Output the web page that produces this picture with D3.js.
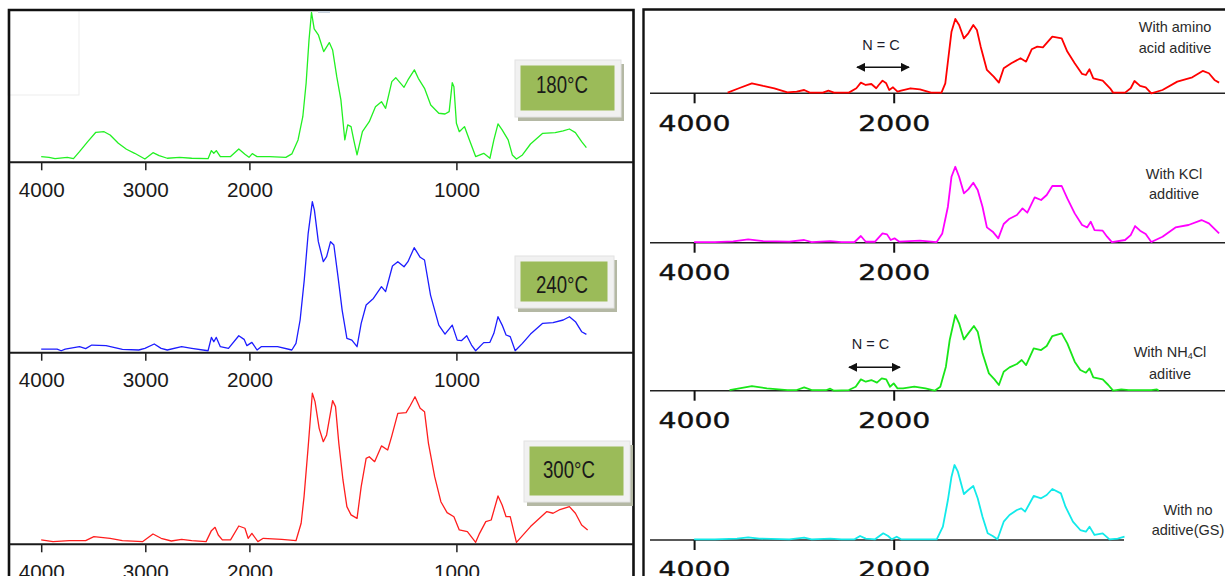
<!DOCTYPE html>
<html lang="en">
<head>
    <meta charset="UTF-8">
    <title>FTIR spectra</title>
    <script src="https://d3js.org/d3.v7.min.js"></script>
    <style>
        body { margin: 0; background: #fff; }
        svg { display: block; font-family: "Liberation Sans", Arial, sans-serif; }
    </style>
</head>
<body>
    <svg id="chart" width="1225" height="576"></svg>

    <script>
        // ---- data (wavenumber cm-1, relative intensity) ----
        const spec180 = [[4000,3.8],[3925,3.3],[3867,2.4],[3749,3.3],[3690,2.4],[3632,7.1],[3553,13.8],[3475,20],[3396,20.4],[3338,18.2],[3259,12.7],[3181,8.7],[3102,6],[3004,2.2],[2926,6.4],[2867,4.4],[2789,2.7],[2671,3.3],[2554,2.7],[2397,2.4],[2365,7.8],[2342,6],[2318,7.8],[2279,3.8],[2181,3.8],[2102,8.9],[2043,5.3],[2004,3.3],[1986,5.8],[1963,3.8],[1903,3.8],[1824,3.3],[1795,5.6],[1765,14.9],[1742,30.4],[1726,52.7],[1712,81.6],[1700,100],[1687,89],[1667,85],[1641,73.8],[1614,79.8],[1598,74.9],[1578,57.1],[1558,41.6],[1539,14.9],[1525,24.9],[1509,23.8],[1496,14.9],[1480,4.9],[1454,20.4],[1421,27.1],[1391,37.1],[1362,40.4],[1342,36],[1312,53.8],[1293,56.4],[1253,50],[1234,54.9],[1203,61.6],[1184,56],[1154,49.3],[1124,38.2],[1085,32.7],[1055,32.2],[1035,33.8],[1020,53.1],[1012,50.4],[1000,26],[986,20.4],[961,23.8],[937,14.9],[907,3.8],[868,6],[838,2.7],[819,14.9],[799,25.6],[779,21.6],[750,14.9],[730,4.9],[710,2.2],[681,4.9],[642,12.2],[583,19.3],[523,19.8],[484,20.9],[454,22.2],[425,19.8],[395,13.8],[372,9.8]];

        const spec240 = [[4000,2.4],[3847,2.4],[3808,1.3],[3769,2.4],[3632,4],[3573,2.7],[3514,5.1],[3377,4.7],[3220,2.2],[3063,1.8],[3004,2.9],[2914,5.8],[2848,2.9],[2789,1.8],[2651,4],[2554,2.9],[2397,1.3],[2365,10.2],[2342,7.3],[2318,10.2],[2279,4],[2201,2.9],[2102,11.3],[2051,8.9],[2024,4.7],[1988,6.9],[1963,1.8],[1943,4],[1864,4],[1795,1.8],[1775,6.2],[1755,21.8],[1735,48.4],[1716,79.6],[1696,100.7],[1686,95.1],[1667,74],[1643,60.7],[1627,64],[1608,74],[1592,71.8],[1572,50.7],[1552,28.4],[1529,9.6],[1505,8.4],[1480,4],[1460,19.6],[1436,31.8],[1401,36.2],[1362,44],[1342,40.7],[1309,57.8],[1283,60.7],[1253,57.3],[1234,60.7],[1204,70],[1175,63.6],[1154,61.8],[1125,38.4],[1085,18.4],[1055,12.4],[1020,18.4],[996,8.4],[976,8],[950,11.3],[927,5.1],[907,1.3],[868,6.7],[838,6.9],[819,12.9],[799,24],[779,18.4],[760,11.8],[740,10.7],[716,1.3],[681,6.2],[642,12.4],[583,19.6],[533,20],[484,21.8],[454,24],[425,20.7],[395,14],[372,12.2]];

        const spec300 = [[4000,2.9],[3886,1.8],[3730,2.4],[3573,2.4],[3494,5.1],[3338,4],[3220,2.4],[3024,1.8],[2926,6.9],[2848,4],[2750,2.2],[2651,3.3],[2554,2.4],[2416,1.8],[2365,9.1],[2330,11.3],[2299,6.2],[2260,2.9],[2181,2.9],[2102,12.2],[2043,10.7],[2012,4],[1988,7.3],[1959,1.8],[1933,4],[1844,3.3],[1775,2.4],[1750,14],[1736,31.8],[1716,65.1],[1696,100.7],[1683,95.1],[1663,77.3],[1643,68.4],[1627,72.9],[1598,95.8],[1584,91.8],[1568,67.3],[1548,42.9],[1529,25.1],[1509,19.6],[1480,17.3],[1460,38.4],[1436,57.3],[1421,58.4],[1395,55.1],[1362,65.6],[1332,62.9],[1313,71.8],[1283,87.3],[1243,87.8],[1224,92.2],[1200,98.4],[1175,90.7],[1154,88.4],[1135,67.3],[1105,45.1],[1075,28.4],[1045,21.1],[1012,18.4],[986,9.6],[947,8.4],[907,1.3],[888,7.3],[858,15.1],[832,16.2],[799,32.2],[779,26.2],[760,18.4],[740,18.4],[710,1.3],[642,11.8],[563,21.8],[533,20.7],[504,22.9],[454,25.1],[425,20.7],[395,12.9],[366,9.6]];

        const specAmino = [[3664,0.9],[3551,6.7],[3421,13.3],[3308,9.8],[3196,6.7],[3065,1.3],[2972,2.2],[2897,4.4],[2841,0.9],[2710,0.9],[2654,3.6],[2598,0.9],[2449,0.9],[2374,6.7],[2329,14.2],[2280,11.1],[2224,12.4],[2175,6.7],[2150,11.1],[2112,16.9],[2075,13.3],[2045,4.4],[2007,8],[1981,2.2],[1963,3.6],[1916,6.7],[1869,5.3],[1813,0.9],[1761,0.9],[1742,13.3],[1728,44.4],[1711,82.2],[1692,99.1],[1673,91.1],[1649,73.3],[1627,80],[1602,91.1],[1584,84.4],[1565,62.2],[1534,31.1],[1500,22.2],[1474,14.2],[1450,33.3],[1412,40],[1366,46.7],[1338,42.2],[1310,58.7],[1282,62.2],[1254,61.3],[1207,75.6],[1160,73.3],[1132,55.6],[1095,40],[1058,25.8],[1039,24.4],[1021,32],[1002,20],[955,16.9],[918,6.7],[903,0.9],[843,0.9],[815,6.7],[796,16.4],[768,9.8],[740,8],[712,0],[656,4.4],[582,15.6],[507,21.3],[455,29.8],[424,26.7],[396,17.8],[373,14.2]];

        const specKCl = [[4000,0.9],[3794,0.9],[3608,1.8],[3458,4.4],[3308,2.2],[3047,1.3],[2897,3.6],[2822,0.9],[2636,2.2],[2523,0.9],[2392,0.9],[2329,8.9],[2280,1.3],[2187,1.3],[2112,12.4],[2067,11.1],[2030,3.6],[1996,5.8],[1972,1.3],[1869,2.7],[1785,0.9],[1757,12.4],[1729,48],[1711,88],[1692,101.3],[1673,88],[1649,65.8],[1627,71.1],[1602,80],[1580,70.2],[1556,48],[1534,20.4],[1505,14.7],[1477,5.8],[1450,24.9],[1421,32],[1384,36.9],[1356,45.8],[1332,40],[1295,60.4],[1263,56.9],[1235,63.6],[1207,75.6],[1160,75.6],[1132,59.1],[1095,39.1],[1058,23.6],[1033,20.4],[1015,28],[996,16.9],[955,16],[933,8],[909,0.9],[843,3.6],[815,10.2],[793,22.2],[768,16],[740,11.6],[712,0.9],[656,8],[591,20.4],[526,23.6],[461,30.2],[424,25.8],[373,12.4]];

        const specNH4Cl = [[3645,0.9],[3421,6.2],[3271,3.1],[3065,0.9],[2972,0.9],[2897,4.4],[2822,0.9],[2673,0.9],[2636,2.7],[2598,0],[2449,0.9],[2381,5.3],[2329,15.1],[2280,12],[2224,14.2],[2168,10.7],[2120,16.4],[2075,15.1],[2037,5.3],[2000,9.8],[1981,3.1],[1953,3.1],[1897,5.3],[1841,3.1],[1795,0],[1767,5.3],[1739,32],[1720,67.6],[1692,100.9],[1673,89.8],[1649,68.4],[1627,76.4],[1599,86.2],[1580,78.7],[1556,49.8],[1524,23.1],[1496,15.1],[1474,7.6],[1450,25.3],[1421,31.1],[1384,35.6],[1360,40.9],[1338,34.2],[1300,56.4],[1263,54.2],[1235,59.6],[1207,72.9],[1160,76.4],[1132,63.1],[1095,38.7],[1067,27.6],[1039,24],[1021,29.8],[1002,17.8],[955,15.1],[927,7.6],[903,0],[862,1.8],[825,0.9],[712,0.9],[684,1.8],[675,0]];

        const specGS = [[4000,0.9],[3794,0.9],[3570,1.8],[3458,3.6],[3346,1.8],[3047,0.9],[2897,3.1],[2822,0.9],[2636,1.8],[2523,0.9],[2392,0.9],[2337,5.3],[2280,1.8],[2187,0.9],[2105,8.9],[2056,5.3],[2019,0.9],[1985,4.4],[1963,0.9],[1785,0.9],[1754,17.8],[1729,53.3],[1711,84.4],[1696,100],[1679,91.1],[1649,61.3],[1627,66.7],[1602,72],[1580,55.6],[1556,31.1],[1530,8.9],[1505,5.3],[1481,0.9],[1450,24.4],[1421,33.3],[1384,40],[1362,42.2],[1343,37.8],[1300,58.7],[1263,55.6],[1235,60],[1207,68],[1164,62.2],[1141,44.4],[1104,24.4],[1067,13.3],[1039,11.1],[1021,17.8],[996,6.7],[955,8.9],[921,0.9],[880,1.8],[846,4.4]];

        const leftTicks = [4000, 3000, 2000, 1000];
        const rightTicks = [4000, 2000];
        const tempLabels = ["180°C", "240°C", "300°C"];
        const additiveLabels = [
            ["With amino", "acid aditive"],
            ["With KCl", "additive"],
            ["With NH4Cl", "aditive"],
            ["With no", "aditive(GS)"]
        ];

        const svg = d3.select("#chart");

        // ---- scales (FTIR: 2x expansion below 2000 cm-1) ----
        const xLeft = d3.scaleLinear().domain([4000, 2000, 400]).range([41.2, 249.4, 580.6]);
        const xRight = d3.scaleLinear().domain([4000, 2000, 400]).range([694.1, 893.7, 1213.7]);

        // ---- left panel ----
        const leftPanels = [
            { data: spec180, base: 162.3, color: "#22f022", box: [515, 60, 106, 57, 562, 84] },
            { data: spec240, base: 352.7, color: "#1d1dff", box: [515, 256, 99, 52, 562, 284] },
            { data: spec300, base: 544.3, color: "#ff1e1e", box: [524, 441, 106, 61, 569, 469] }
        ];

        // frame
        svg.append("rect").attr("x", 8).attr("y", 10).attr("width", 71).attr("height", 85)
            .attr("fill", "none").attr("stroke", "#ededed").attr("stroke-width", 1);
        svg.append("path").attr("d", "M9,590V10H633.5V590")
            .attr("fill", "none").attr("stroke", "#111").attr("stroke-width", 2.6);
        svg.append("rect").attr("x", 318).attr("y", 11).attr("width", 12).attr("height", 2)
            .attr("fill", "#c9d3de");

        leftPanels.forEach((p, i) => {
            const y = d3.scaleLinear().domain([0, 100]).range([p.base, p.base - 150]);

            svg.append("line").attr("x1", 9).attr("x2", 633).attr("y1", p.base).attr("y2", p.base)
                .attr("stroke", "#1a1a1a").attr("stroke-width", 2);

            const ax = svg.append("g").attr("transform", `translate(0,${p.base})`)
                .call(d3.axisBottom(xLeft).tickValues(leftTicks).tickSize(8).tickFormat(d3.format("d")));
            ax.select(".domain").remove();
            ax.selectAll("line").attr("stroke", "#222").attr("stroke-width", 1.5);
            ax.selectAll("text").attr("y", 34.7).attr("dy", null)
                .attr("font-family", "'Liberation Sans', Arial, sans-serif")
                .attr("font-size", 19.5).attr("fill", "#1a1a1a")
                .attr("textLength", 46).attr("lengthAdjust", "spacingAndGlyphs");

            svg.append("path").datum(p.data)
                .attr("fill", "none").attr("stroke", p.color).attr("stroke-width", 1.3)
                .attr("stroke-linejoin", "round")
                .attr("d", d3.line().x(d => xLeft(d[0])).y(d => Math.max(10, y(d[1]))));

            // temperature label box
            const [bx, by, bw, bh, tx, ty] = p.box;
            svg.append("rect").attr("x", bx + 3).attr("y", by + 4).attr("width", bw).attr("height", bh)
                .attr("fill", "#b4b8a4");
            svg.append("rect").attr("x", bx).attr("y", by).attr("width", bw).attr("height", bh)
                .attr("fill", "#f1f1f1").attr("stroke", "#e2e2e2").attr("stroke-width", 1);
            svg.append("rect").attr("x", bx + 5.5).attr("y", by + 5.5).attr("width", bw - 12).attr("height", bh - 12)
                .attr("fill", "#9bbb59");
            svg.append("text").attr("x", tx).attr("y", ty + 8.5).attr("text-anchor", "middle")
                .attr("font-size", 24).attr("fill", "#1a1a1a")
                .attr("textLength", 52).attr("lengthAdjust", "spacingAndGlyphs")
                .text(tempLabels[i]);
        });

        // ---- right panel ----
        const rightPanels = [
            { data: specAmino, base: 93.3, color: "#ff0000", axisEnd: 1225, label: [1175, 32], lineGap: 21 },
            { data: specKCl, base: 242.7, color: "#ff00ff", axisEnd: 1225, label: [1174, 178.5], lineGap: 20 },
            { data: specNH4Cl, base: 390.7, color: "#19e619", axisEnd: 1225, label: [1170, 357], lineGap: 21.5 },
            { data: specGS, base: 540, color: "#12eaea", axisEnd: 1124, label: [1188, 515], lineGap: 20 }
        ];

        svg.append("path").attr("d", "M643.5,590V9.5H1226")
            .attr("fill", "none").attr("stroke", "#111").attr("stroke-width", 2.4);

        rightPanels.forEach((p, i) => {
            const y = d3.scaleLinear().domain([0, 100]).range([p.base, p.base - 75]);

            svg.append("line").attr("x1", 650).attr("x2", p.axisEnd).attr("y1", p.base).attr("y2", p.base)
                .attr("stroke", "#222").attr("stroke-width", 1.5);

            const ax = svg.append("g").attr("transform", `translate(0,${p.base})`)
                .call(d3.axisBottom(xRight).tickValues(rightTicks).tickSize(10).tickFormat(d3.format("d")));
            ax.select(".domain").remove();
            ax.selectAll("line").attr("stroke", "#111").attr("stroke-width", 2);
            ax.selectAll("text").attr("y", 37.4).attr("dy", null)
                .attr("font-family", "'DejaVu Sans', sans-serif")
                .attr("font-size", 21.5).attr("fill", "#111")
                .attr("stroke", "#111").attr("stroke-width", 0.4)
                .attr("textLength", 72).attr("lengthAdjust", "spacingAndGlyphs");

            svg.append("path").datum(p.data)
                .attr("fill", "none").attr("stroke", p.color).attr("stroke-width", 1.8)
                .attr("stroke-linejoin", "round")
                .attr("d", d3.line().x(d => xRight(d[0])).y(d => y(d[1])));

            const [lx, ly] = p.label;
            const lines = additiveLabels[i];
            lines.forEach((t, j) => {
                const txt = svg.append("text").attr("x", lx).attr("y", ly + j * p.lineGap)
                    .attr("text-anchor", "middle").attr("font-size", 14.5).attr("fill", "#2a2a2a");
                if (t.includes("NH4")) {
                    txt.append("tspan").text("With NH");
                    txt.append("tspan").attr("font-size", 9).attr("dy", 2).text("4");
                    txt.append("tspan").attr("dy", -2).text("Cl");
                } else {
                    txt.text(t);
                }
            });
        });

        // ---- N = C annotations ----
        svg.append("defs").append("marker")
            .attr("id", "head").attr("viewBox", "0 0 10 10").attr("refX", 9).attr("refY", 5)
            .attr("markerWidth", 9).attr("markerHeight", 9).attr("markerUnits", "userSpaceOnUse")
            .attr("orient", "auto-start-reverse")
            .append("path").attr("d", "M0,0L10,5L0,10Z").attr("fill", "#111");

        const ncNotes = [[881, 50, 857, 909, 67.3], [870.5, 349, 849, 900, 367.3]];
        ncNotes.forEach(([tx, ty, x1, x2, ay]) => {
            svg.append("text").attr("x", tx).attr("y", ty).attr("text-anchor", "middle")
                .attr("font-size", 14.5).attr("fill", "#1c1c2c").text("N = C");
            svg.append("line").attr("x1", x1).attr("x2", x2).attr("y1", ay).attr("y2", ay)
                .attr("stroke", "#111").attr("stroke-width", 1.5)
                .attr("marker-start", "url(#head)").attr("marker-end", "url(#head)");
        });
    </script>
</body>
</html>
